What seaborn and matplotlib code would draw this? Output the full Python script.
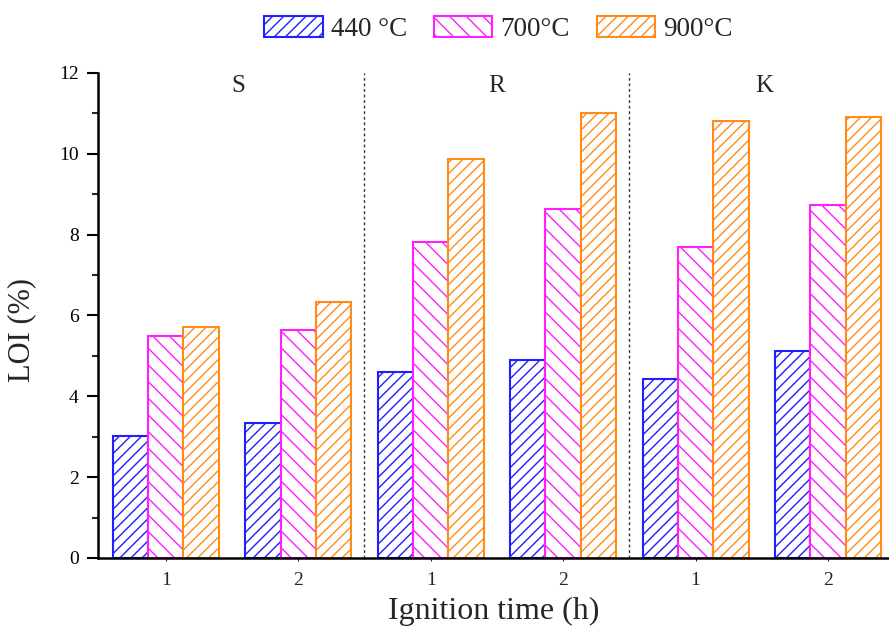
import numpy as np
import pandas as pd
import matplotlib
matplotlib.use("Agg")
import matplotlib.pyplot as plt
import seaborn as sns

groups = ["S1", "S2", "R1", "R2", "K1", "K2"]
tick_labels = ["1", "2", "1", "2", "1", "2"]
section_labels = ["S", "R", "K"]
temps = ["440 °C", "700°C", "900°C"]
v440 = [3.02, 3.35, 4.60, 4.90, 4.42, 5.12]
v700 = [5.48, 5.65, 7.82, 8.63, 7.68, 8.73]
v900 = [5.72, 6.32, 9.87, 11.00, 10.80, 10.92]

colors = ["#1f1fff", "#ff1fff", "#ff8c1a"]
hatches = ["///", "\\\\", "///"]

df = pd.DataFrame({
    "group": groups * 3,
    "temp": [temps[0]] * 6 + [temps[1]] * 6 + [temps[2]] * 6,
    "LOI": v440 + v700 + v900,
})

sns.set_theme(style="ticks")
plt.rcParams["font.family"] = ["Liberation Serif", "DejaVu Serif"]
plt.rcParams["hatch.linewidth"] = 1.0

fig = plt.figure(figsize=(8.89, 6.28), dpi=100)
ax = fig.add_axes([0.1105, 0.1115, 0.8895, 0.7725])

sns.barplot(data=df, x="group", y="LOI", hue="temp", order=groups,
            hue_order=temps, ax=ax, legend=False, width=0.8,
            palette=colors, errorbar=None)

for cont, col, h in zip(ax.containers, colors, hatches):
    for p in cont:
        p.set_facecolor("white")
        p.set_edgecolor(col)
        p.set_hatch(h)
        p.set_linewidth(1.5)

ax.set_xlim(-0.51, 5.46)
ax.set_ylim(0, 12)
ax.set_yticks(np.arange(0, 13, 2))
ax.set_yticks(np.arange(1, 12, 2), minor=True)
ax.set_xticks(range(6))
ax.set_xticklabels(tick_labels)
ax.tick_params(axis="y", which="major", direction="out", length=8, width=1.5, labelsize=14, colors="black", pad=6)
ax.tick_params(axis="y", which="minor", direction="out", length=4, width=1.5)
ax.tick_params(axis="x", which="major", direction="out", length=2, width=0.8, labelsize=14, pad=8)

for s in ["top", "right"]:
    ax.spines[s].set_visible(False)
for s in ["left", "bottom"]:
    ax.spines[s].set_linewidth(1.8)
    ax.spines[s].set_color("black")

for xd in [1.5, 3.5]:
    ax.axvline(xd, color="#333333", linestyle=(0, (2, 2)), linewidth=1)

for xs, lab in zip([0.55, 2.5, 4.52], section_labels):
    ax.text(xs, 11.68, lab, ha="center", va="center", fontsize=18)

ax.set_xlabel("Ignition time (h)", fontsize=23)
ax.set_ylabel("LOI (%)", fontsize=22)
ax.xaxis.set_label_coords(0.5, -0.08)
ax.yaxis.set_label_coords(-0.078, 0.47)

handles = [cont[0] for cont in ax.containers]
fig.legend(handles, temps, loc="center", bbox_to_anchor=(0.561, 0.954),
           ncol=3, frameon=False, fontsize=19.5, handlelength=2.15,
           handleheight=0.8, handletextpad=0.3, columnspacing=1.0)

fig.savefig("out.png", dpi=100)
